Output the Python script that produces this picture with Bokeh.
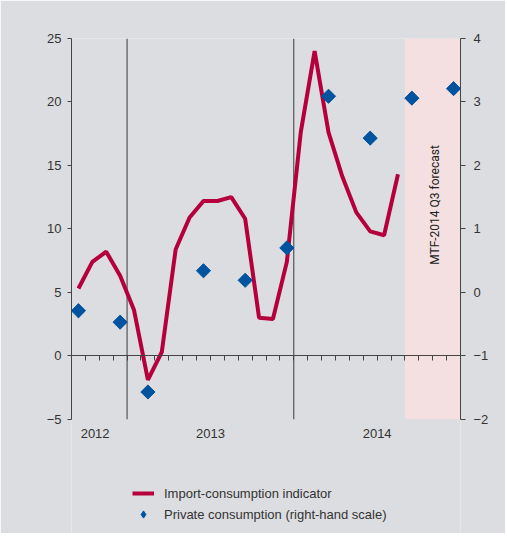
import numpy as np
import pandas as pd
from bokeh.plotting import figure
from bokeh.models import (LinearAxis, Range1d, FixedTicker, BoxAnnotation,
                          Legend, LegendItem)
from bokeh.core.properties import value
from bokeh.embed import file_html
from bokeh.resources import INLINE

# ---------------- data ----------------
axis_start = "2012-09"
axis_end = "2014-12"
line_months = ["2012-09", "2012-10", "2012-11", "2012-12",
               "2013-01", "2013-02", "2013-03", "2013-04", "2013-05", "2013-06",
               "2013-07", "2013-08", "2013-09", "2013-10", "2013-11", "2013-12",
               "2014-01", "2014-02", "2014-03", "2014-04", "2014-05", "2014-06",
               "2014-07", "2014-08"]
import_consumption = [5.3, 7.4, 8.2, 6.3, 3.6, -1.9, 0.3, 8.4, 10.9, 12.2,
                      12.2, 12.5, 10.8, 3.0, 2.9, 7.4, 17.6, 24.0, 17.6, 14.1,
                      11.3, 9.8, 9.5, 14.3]
pc_months = ["2012-09", "2012-12", "2013-02", "2013-06", "2013-09",
             "2013-12", "2014-03", "2014-06", "2014-09", "2014-12"]
private_consumption = [-0.29, -0.47, -1.57, 0.34, 0.19, 0.70, 3.09, 2.43, 3.06, 3.21]
year_starts = ["2013-01", "2014-01"]
year_labels = ["2012", "2013", "2014"]
year_label_x = [1.7, 10.0, 22.0]
forecast_start = "2014-09"
forecast_label = "MTF-2014  Q3 forecast"
forecast_label_x = 26.15
forecast_label_y = 12.0
left_min, left_max = -5, 25
right_min, right_max = -2, 4
left_ticks = [-5, 0, 5, 10, 15, 20, 25]
right_ticks = [-2, -1, 0, 1, 2, 3, 4]

# ---------------- helpers ----------------
p0 = pd.Period(axis_start, "M")
def idx(m):
    return (pd.Period(m, "M") - p0).n
n_months = idx(axis_end) + 1

x_line = [idx(m) + 0.5 for m in line_months]
x_pc = [idx(m) + 0.5 for m in pc_months]
x_sep = [idx(m) for m in year_starts]

GRAY = "#dcdde0"
RED = "#b5003c"
BLUE = "#00539f"
PINK = "#f4e0e0"
TXT = "#333333"
FONT = "Liberation Sans"

# plot area extended downward to host the legend (axes are bounded to the data span)
PX_PER_UNIT = 12.7
extra_below = 9.0
frame_lo = left_min - extra_below
frame_h = int(round((left_max - frame_lo) * PX_PER_UNIT))
ratio = (right_max - right_min) / (left_max - left_min)
right_lo = right_min - extra_below * ratio

p = figure(frame_width=389, frame_height=frame_h,
           x_range=Range1d(0, n_months), y_range=Range1d(frame_lo, left_max),
           output_backend="svg", toolbar_location=None,
           x_axis_location=None, y_axis_location=None,
           background_fill_color=GRAY, border_fill_color=GRAY,
           outline_line_color=None,
           min_border_left=71, min_border_right=45, min_border_top=38, min_border_bottom=0)
p.grid.grid_line_color = None
p.extra_y_ranges = {"right": Range1d(right_lo, right_max)}

# forecast shading
p.add_layout(BoxAnnotation(left=idx(forecast_start), right=n_months, bottom=left_min, top=left_max,
                           fill_color=PINK, fill_alpha=1, line_color=None, level="underlay"))

# year separators
p.segment(x0=x_sep, y0=[left_min] * len(x_sep), x1=x_sep, y1=[left_max] * len(x_sep),
          line_color="#3a3a3a", line_width=1)

line_r = p.line(x_line, import_consumption, line_color=RED, line_width=4)
# legend swatch for the diamonds: drawn under the first marker (fully hidden by it)
sc_leg = p.scatter(x=x_pc[:1], y=private_consumption[:1], y_range_name="right", marker="diamond",
                   size=14, fill_color=BLUE, line_color=BLUE)
sc_r = p.scatter(x_pc, private_consumption, y_range_name="right", marker="square",
                 angle=np.pi / 4, size=10, fill_color=BLUE, line_color=BLUE)

p.text(x=[forecast_label_x], y=[forecast_label_y], text=[forecast_label], angle=np.pi / 2,
       text_align="center", text_baseline="middle",
       text_font=value("Liberation Sans Narrow, Roboto, sans-serif"), text_font_size="12px",
       text_color="#222222")

def style_axis(ax):
    ax.axis_line_color = "#444444"
    ax.major_tick_line_color = "#444444"
    ax.minor_tick_line_color = None
    ax.major_label_text_font = FONT
    ax.major_label_text_font_size = "13px"
    ax.major_label_text_color = TXT

left = LinearAxis(ticker=FixedTicker(ticks=left_ticks), bounds=(left_min, left_max))
style_axis(left)
left.major_tick_out = 4
left.major_tick_in = 0
left.major_label_standoff = 6
p.add_layout(left, "left")

right = LinearAxis(y_range_name="right", ticker=FixedTicker(ticks=right_ticks),
                   bounds=(right_min, right_max))
style_axis(right)
right.major_tick_out = 5
right.major_tick_in = 0
right.major_label_standoff = 8
p.add_layout(right, "right")

month_ticks = list(range(0, n_months + 1))
month_axis = LinearAxis(ticker=FixedTicker(ticks=month_ticks), fixed_location=0,
                        major_label_overrides={t: "" for t in month_ticks})
style_axis(month_axis)
month_axis.major_tick_out = 5
month_axis.major_tick_in = 0
month_axis.major_label_standoff = 0
p.add_layout(month_axis, "below")

year_axis = LinearAxis(ticker=FixedTicker(ticks=year_label_x), fixed_location=left_min,
                       major_label_overrides={k: v for k, v in zip(year_label_x, year_labels)})
style_axis(year_axis)
year_axis.axis_line_color = None
year_axis.major_tick_line_color = None
year_axis.major_tick_out = 0
year_axis.major_label_standoff = 10
p.add_layout(year_axis, "below")

legend = Legend(items=[LegendItem(label="Import-consumption indicator", renderers=[line_r]),
                       LegendItem(label="Private consumption (right-hand scale)", renderers=[sc_leg])],
                location=(61, 10), orientation="vertical",
                background_fill_alpha=0, border_line_color=None,
                label_text_font=FONT, label_text_font_size="13px", label_text_color=TXT,
                glyph_width=22, glyph_height=18, label_standoff=10, spacing=3,
                padding=5, margin=0)
p.add_layout(legend, "center")

open("out.html", "w").write(file_html(p, INLINE))
